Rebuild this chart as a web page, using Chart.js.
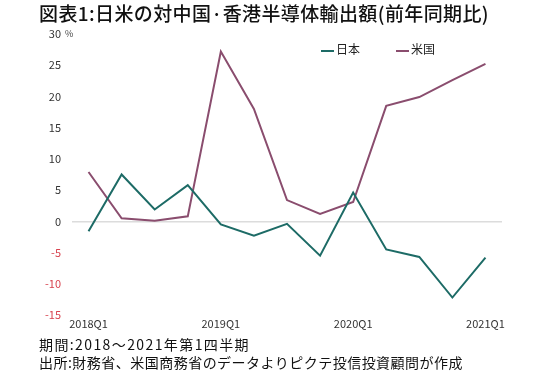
<!DOCTYPE html>
<html>
<head>
<meta charset="utf-8">
<script src="https://cdn.jsdelivr.net/npm/chart.js@4"></script>
<style>
  body { margin: 0; background: #fff; font-family: "Noto Sans CJK JP", sans-serif; }
  #wrap { position: relative; width: 550px; height: 375px; }
  #chart { position: absolute; left: 0; top: 0; }
  .title { position: absolute; left: 39px; top: -1px; font-size: 19px; font-weight: 500; color: #111; white-space: nowrap; }
  .legend { position: absolute; top: 40px; font-size: 12px; color: #222; white-space: nowrap; }
  .legend span { display: inline-block; width: 13px; height: 2px; vertical-align: middle; margin-right: 2px; }
  .note { position: absolute; left: 39px; font-size: 14px; color: #111; white-space: nowrap; }
</style>
</head>
<body>
<div id="wrap">
  <canvas id="chart" width="550" height="375"></canvas>
  <div class="title" data-w="450">図表1:日米の対中国·香港半導体輸出額(前年同期比)</div>
  <div id="legend"></div>
  <div class="note" data-w="211" style="top:334px">期間:2018～2021年第1四半期</div>
  <div class="note" data-w="424" style="top:352px">出所:財務省、米国商務省のデータよりピクテ投信投資顧問が作成</div>
</div>
<script>
// quarters 2018Q1 .. 2021Q1
const quarters = ['2018Q1', '2018Q2', '2018Q3', '2018Q4', '2019Q1', '2019Q2', '2019Q3', '2019Q4',
  '2020Q1', '2020Q2', '2020Q3', '2020Q4', '2021Q1'];
const japan = [-1.6, 7.5, 1.9, 5.8, -0.5, -2.3, -0.4, -5.5, 4.6, -4.5, -5.7, -12.2, -5.8];
const usa = [7.9, 0.5, 0.1, 0.8, 27.2, 18.0, 3.4, 1.2, 3.1, 18.5, 19.9, 22.6, 25.2];
const seriesNames = ['日本', '米国'];
const seriesColors = ['#1d6b66', '#8a4d6e'];
const yMin = -15;
const yMax = 30;
const yStep = 5;
const shownQuarters = ['2018Q1', '2019Q1', '2020Q1', '2021Q1'];

// stretch the text lines a little so they span the same width as the original
document.querySelectorAll('[data-w]').forEach(el => {
  const n = el.textContent.length;
  const diff = Number(el.dataset.w) - el.getBoundingClientRect().width;
  el.style.letterSpacing = (diff / n) + 'px';
});

// legend (html, placed over the plot like the original)
const legendX = [321, 396];
const legendBox = document.getElementById('legend');
seriesNames.forEach((name, i) => {
  const d = document.createElement('div');
  d.className = 'legend';
  d.style.left = legendX[i] + 'px';
  d.innerHTML = `<span style="background:${seriesColors[i]}"></span>${name}`;
  legendBox.appendChild(d);
});

const percentSign = {
  id: 'percentSign',
  afterDraw(chart) {
    const ctx = chart.ctx;
    const y = chart.scales.y.getPixelForValue(yMax);
    ctx.save();
    ctx.font = '9px "Noto Sans CJK JP"';
    ctx.fillStyle = '#444';
    ctx.textBaseline = 'middle';
    ctx.textAlign = 'left';
    ctx.fillText('%', 65, y);
    ctx.restore();
  }
};

new Chart(document.getElementById('chart'), {
  type: 'line',
  data: {
    labels: quarters,
    datasets: [
      { label: seriesNames[0], data: japan, borderColor: seriesColors[0], backgroundColor: seriesColors[0] },
      { label: seriesNames[1], data: usa, borderColor: seriesColors[1], backgroundColor: seriesColors[1] }
    ]
  },
  options: {
    responsive: false,
    animation: false,
    layout: { padding: { left: 0, right: 48, top: 34, bottom: 35 } },
    elements: {
      line: { borderWidth: 2, tension: 0 },
      point: { radius: 0 }
    },
    plugins: {
      legend: { display: false },
      tooltip: { enabled: false }
    },
    scales: {
      x: {
        offset: true,
        grid: { display: false, drawTicks: false },
        border: { display: false },
        afterFit: scale => { scale.height = 25; },
        ticks: {
          autoSkip: false,
          maxRotation: 0,
          padding: 2,
          color: '#333',
          font: { family: 'Noto Sans CJK JP', size: 11 },
          callback: function (value) {
            const q = this.getLabelForValue(value);
            return shownQuarters.includes(q) ? q : '';
          }
        }
      },
      y: {
        min: yMin,
        max: yMax,
        afterFit: scale => { scale.width = 72; },
        border: { display: false },
        grid: {
          drawTicks: false,
          lineWidth: 1.5,
          color: ctx => ctx.tick && ctx.tick.value === 0 ? '#dcdcdc' : 'rgba(0,0,0,0)'
        },
        ticks: {
          stepSize: yStep,
          padding: 11,
          font: { family: 'Noto Sans CJK JP', size: 11 },
          color: ctx => ctx.tick.value < 0 ? '#d8434f' : '#333'
        }
      }
    }
  },
  plugins: [percentSign]
});
</script>
</body>
</html>
